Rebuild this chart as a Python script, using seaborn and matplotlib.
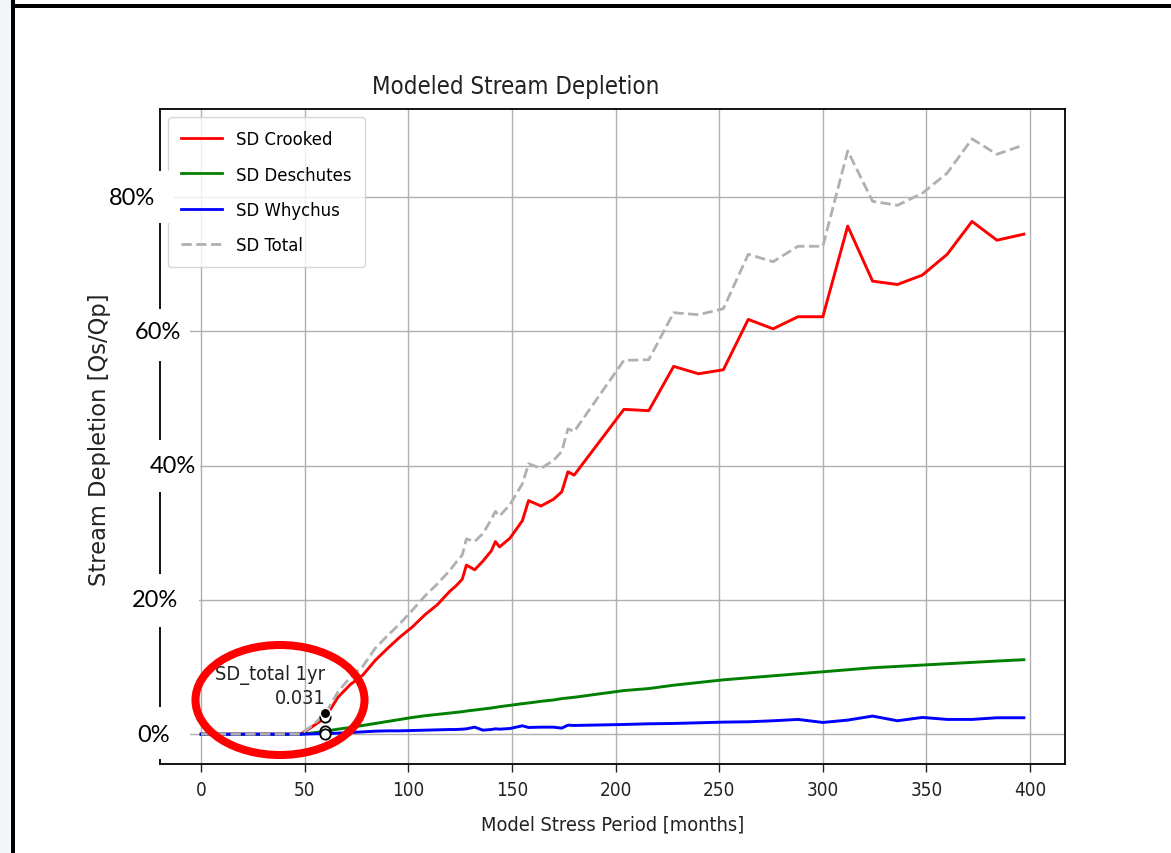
import matplotlib
matplotlib.use("Agg")
import matplotlib.pyplot as plt
import seaborn as sns
import pandas as pd
from matplotlib import font_manager as fm
from matplotlib.patches import Ellipse, Rectangle
from matplotlib.lines import Line2D

# ---------------- data (percent of pumping) ----------------
months = [0, 48, 54, 60, 66, 72, 78, 84, 90, 96, 102, 108, 114, 120, 123, 126, 128,
          132, 136, 140, 142, 144, 149, 155, 158, 164, 170, 174, 177, 180, 204, 216,
          228, 240, 252, 264, 276, 288, 300, 312, 324, 336, 348, 360, 372, 384, 397]
sd_crooked = [0, 0, 1.2, 2.5, 5.5, 7.4, 8.8, 11.0, 12.8, 14.5, 16.0, 17.8, 19.3, 21.3,
              22.1, 23.1, 25.2, 24.5, 25.8, 27.3, 28.7, 27.9, 29.2, 31.8, 34.8, 34.0,
              35.0, 36.1, 39.1, 38.6, 48.4, 48.2, 54.8, 53.7, 54.3, 61.8, 60.4, 62.2,
              62.2, 75.7, 67.5, 67.0, 68.4, 71.5, 76.4, 73.6, 74.5]
sd_deschutes = [0, 0, 0.2, 0.45, 0.75, 1.0, 1.3, 1.6, 1.9, 2.2, 2.5, 2.75, 2.95, 3.15,
                3.25, 3.35, 3.45, 3.6, 3.75, 3.9, 4.0, 4.1, 4.3, 4.55, 4.65, 4.9, 5.1,
                5.3, 5.4, 5.5, 6.5, 6.8, 7.3, 7.7, 8.1, 8.4, 8.7, 9.0, 9.3, 9.6, 9.9,
                10.1, 10.3, 10.5, 10.7, 10.9, 11.1]
sd_whychus = [0, 0, 0.05, 0.1, 0.15, 0.25, 0.35, 0.45, 0.5, 0.5, 0.55, 0.6, 0.65, 0.7,
              0.7, 0.75, 0.8, 1.05, 0.6, 0.7, 0.8, 0.75, 0.85, 1.25, 1.0, 1.05, 1.05,
              0.9, 1.35, 1.3, 1.45, 1.55, 1.6, 1.7, 1.8, 1.85, 2.0, 2.2, 1.75, 2.1, 2.7,
              2.0, 2.5, 2.2, 2.2, 2.45, 2.45]
sd_total = [0, 0, 1.4, 3.1, 6.3, 8.5, 10.1, 12.8, 14.7, 16.5, 18.5, 20.6, 22.4, 24.4,
            25.6, 26.7, 29.1, 28.7, 29.9, 32.0, 33.2, 32.5, 34.2, 37.3, 40.3, 39.6,
            40.8, 42.1, 45.5, 45.1, 55.7, 55.8, 62.8, 62.5, 63.4, 71.5, 70.4, 72.7,
            72.7, 86.9, 79.4, 78.8, 80.6, 83.6, 88.7, 86.4, 87.8]

series_names = ["SD Crooked", "SD Deschutes", "SD Whychus", "SD Total"]
series_colors = ["red", "green", "blue", "#b0b0b0"]
series_styles = ["-", "-", "-", "--"]

x_ticks = [0, 50, 100, 150, 200, 250, 300, 350, 400]
y_tick_values = [0, 20, 40, 60, 80]
y_tick_labels = ["0%", "20%", "40%", "60%", "80%"]

title_text = "Modeled Stream Depletion"
x_label = "Model Stress Period [months]"
y_label = "Stream Depletion [Qs/Qp]"
marker_month = 60
annot_text = "SD_total 1yr\n0.031"

# ---------------- fonts ----------------
cond = [f for f in fm.fontManager.ttflist
        if f.name == "DejaVu Sans" and f.stretch == "condensed"
        and f.style == "normal" and str(f.weight) in ("400", "normal", "book")]
if cond:
    base_fp = fm.FontProperties(fname=cond[0].fname)
    k = 1.0 / 0.9
else:
    base_fp = fm.FontProperties(family="DejaVu Sans")
    k = 1.0


def fp(size):
    p = base_fp.copy()
    p.set_size(size * k)
    return p


W, H = 1171, 854
fig = plt.figure(figsize=(W / 100, H / 100), dpi=100)
fig.patch.set_facecolor("white")


def fx(px):
    return px / W


def fy(py):
    return 1 - py / H


ax = fig.add_axes([fx(160), fy(765), fx(1065) - fx(160), fy(110) - fy(765)])

df = pd.DataFrame({"month": months,
                   "SD Crooked": sd_crooked,
                   "SD Deschutes": sd_deschutes,
                   "SD Whychus": sd_whychus,
                   "SD Total": sd_total})

for name, col, ls in zip(series_names, series_colors, series_styles):
    sns.lineplot(data=df, x="month", y=name, color=col, linestyle=ls,
                 linewidth=2.1 if ls == "-" else 2.0, ax=ax, label=None,
                 legend=False, zorder=3)

# markers at 1 yr
idx = months.index(marker_month)
mk = pd.DataFrame({"month": [marker_month] * 4,
                   "val": [sd_crooked[idx], sd_deschutes[idx], sd_whychus[idx], sd_total[idx]],
                   "kind": ["c", "d", "w", "t"]})
sns.scatterplot(data=mk[mk.kind != "t"], x="month", y="val", marker="o", s=55,
                facecolor="white", edgecolor="black", linewidth=1.3, ax=ax, zorder=5,
                legend=False)
sns.scatterplot(data=mk[mk.kind == "t"], x="month", y="val", marker="o", s=55,
                facecolor="black", edgecolor="white", linewidth=1.0, ax=ax, zorder=6,
                legend=False)

ax.text(marker_month, 4.0, annot_text, ha="right", va="bottom", multialignment="right",
        fontproperties=fp(12.9), color="#222222", zorder=7, linespacing=1.3)

ax.set_xlim(-19.85, 416.85)
ax.set_ylim(-4.44, 93.15)
ax.set_xticks(x_ticks)
ax.set_yticks(y_tick_values)
ax.set_yticklabels([])
ax.grid(True, color="#b0b0b0", linewidth=1.0)
ax.set_axisbelow(True)
for s in ax.spines.values():
    s.set_linewidth(1.3)
    s.set_color("black")
ax.tick_params(axis="x", length=5.5, width=1.0, pad=6, colors="#222222")
ax.tick_params(axis="y", length=0)
for lbl in ax.get_xticklabels():
    lbl.set_fontproperties(fp(12.2))
ax.set_xlabel(x_label, fontproperties=fp(12.9), color="#222222", labelpad=11)
ax.set_ylabel("")
fig.text(fx(100), fy(440), y_label, rotation=90, ha="center", va="center",
         fontproperties=fm.FontProperties(family="DejaVu Sans", size=16.3), color="#222222")

fig.text(fx(516), fy(87), title_text, ha="center", va="center",
         fontproperties=fp(15.5), color="#222222")

handles = [Line2D([0], [0], color=c, linestyle=l, linewidth=2.0)
           for c, l in zip(series_colors, series_styles)]
ax.legend(handles, series_names, loc="upper left", prop=fp(11.9), labelspacing=0.95,
          handlelength=2.2, handletextpad=0.8, borderaxespad=0.45, borderpad=0.7,
          framealpha=0.8, edgecolor="0.8", fancybox=True)

# white cover boxes with overlaid percent labels
boxes = {"80%": (100, 172, 174, 224, 155),
         "60%": (125, 310, 190, 362, 181),
         "40%": (125, 441, 200, 493, 196),
         "20%": (120, 575, 199, 628, 178),
         "0%": (120, 708, 190, 760, 170)}
for lab, val in zip(y_tick_labels, y_tick_values):
    x0, y0, x1, y1, xr = boxes[lab]
    fig.patches.append(Rectangle((fx(x0), fy(y1)), fx(x1) - fx(x0), fy(y0) - fy(y1),
                                 transform=fig.transFigure, facecolor="white",
                                 edgecolor="none", zorder=2))
    ypix = ax.transData.transform((0, val))[1]
    fig.text(fx(xr), ypix / H, lab, ha="right", va="center",
             fontproperties=fm.FontProperties(family="Lato", size=17), color="black",
             zorder=4)

# red ellipse highlight
fig.patches.append(Ellipse((fx(280), fy(701)), fx(169), 110 / H, transform=fig.transFigure,
                           facecolor="none", edgecolor="red", linewidth=5.8, zorder=5))

# screenshot frame
fig.patches.append(Rectangle((0, 0), fx(11), 1, transform=fig.transFigure,
                             facecolor="#f2f6fb", edgecolor="none", zorder=1))
fig.patches.append(Rectangle((fx(11), 0), fx(4), 1, transform=fig.transFigure,
                             facecolor="black", edgecolor="none", zorder=1))
fig.patches.append(Rectangle((fx(11), fy(9)), 1 - fx(11), 4 / H, transform=fig.transFigure,
                             facecolor="black", edgecolor="none", zorder=1))

fig.savefig("out.png", dpi=100)
